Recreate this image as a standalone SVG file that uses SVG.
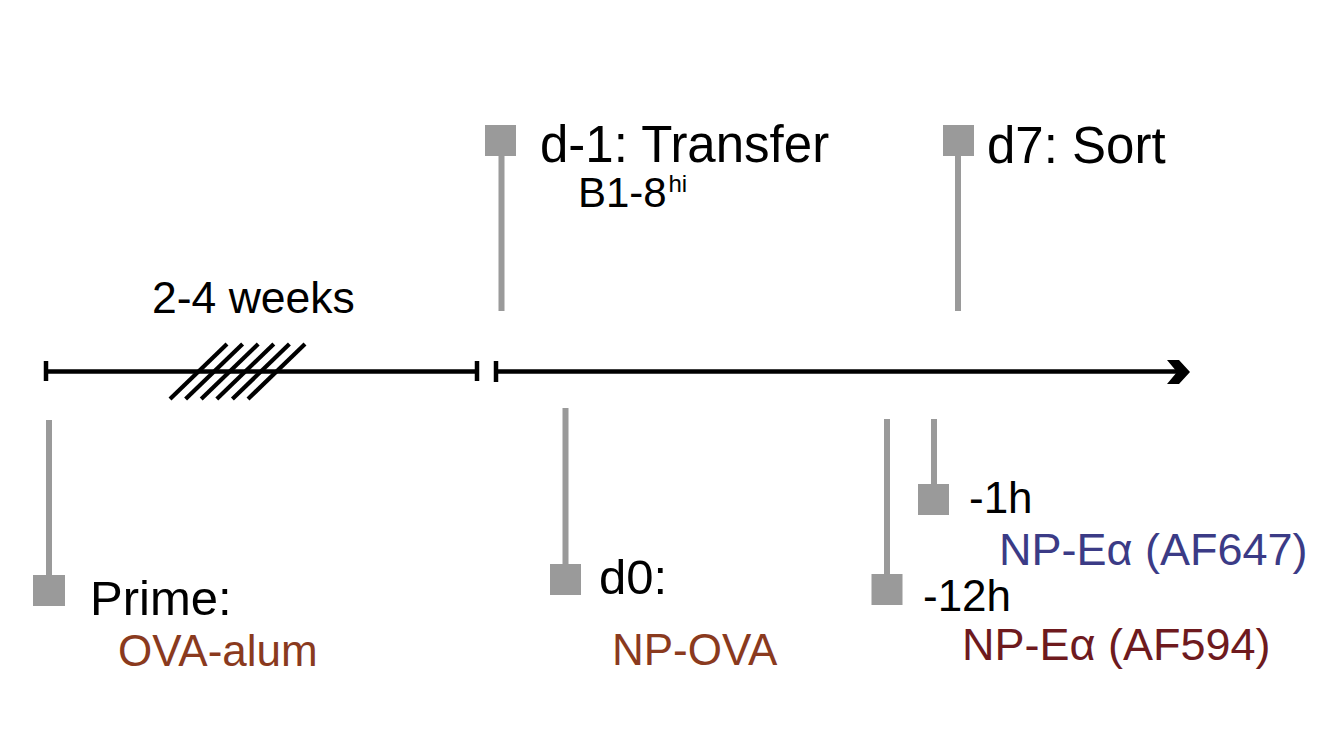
<svg xmlns="http://www.w3.org/2000/svg" width="1325" height="740" viewBox="0 0 1325 740">
<style>
text{font-family:"Liberation Sans",Arial,sans-serif;fill:#000}
.stem{stroke:#9a9a9a;stroke-width:6;fill:none}
.sq{fill:#9a9a9a}
.axis{stroke:#000;stroke-width:4.5;fill:none}
.hatch{stroke:#000;stroke-width:4.2;fill:none}
.brown{fill:#8a3a1e}
.red{fill:#6e1a1e}
.navy{fill:#3b3b86}
</style>
<rect width="1325" height="740" fill="#fff"/>
<g id="connectors">
<line class="axis" x1="46" y1="371.5" x2="477" y2="371.5"/>
<line class="axis" x1="46" y1="361" x2="46" y2="381"/>
<line class="axis" x1="477" y1="361" x2="477" y2="381"/>
<line class="axis" x1="496" y1="371.5" x2="1180" y2="371.5"/>
<line class="axis" x1="496" y1="361" x2="496" y2="382"/>
<polygon points="1167,360 1179,360 1190,372 1179,384 1167,384 1177,372" fill="#000"/>
<g id="hatching">
<line class="hatch" x1="170" y1="399" x2="227" y2="344"/>
<line class="hatch" x1="185.6" y1="399" x2="242.6" y2="344"/>
<line class="hatch" x1="201.2" y1="399" x2="258.2" y2="344"/>
<line class="hatch" x1="216.8" y1="399" x2="273.8" y2="344"/>
<line class="hatch" x1="232.4" y1="399" x2="289.4" y2="344"/>
<line class="hatch" x1="248" y1="399" x2="305" y2="344"/>
</g>
</g>
<text x="152" y="313" font-size="44.5">2-4 weeks</text>
<g id="transfer">
<line class="stem" x1="501.5" y1="155" x2="501.5" y2="311"/>
<rect class="sq" x="485" y="125" width="31" height="31"/>
<text x="540" y="162" font-size="51">d-1: Transfer</text>
<text x="578" y="207" font-size="42">B1-8</text>
<text x="668.5" y="192" font-size="24">hi</text>
</g>
<g id="sort">
<line class="stem" x1="958" y1="155" x2="958" y2="311"/>
<rect class="sq" x="943" y="125" width="31" height="31"/>
<text x="987" y="163" font-size="51">d7: Sort</text>
</g>
<g id="prime">
<line class="stem" x1="49" y1="420" x2="49" y2="576"/>
<rect class="sq" x="33" y="575" width="32" height="31"/>
<text x="90" y="615" font-size="49">Prime:</text>
<text class="brown" x="118" y="666" font-size="44">OVA-alum</text>
</g>
<g id="d0">
<line class="stem" x1="565.5" y1="408" x2="565.5" y2="565"/>
<rect class="sq" x="550" y="564" width="31" height="31"/>
<text x="599" y="594" font-size="49">d0:</text>
<text class="brown" x="612" y="665" font-size="44">NP-OVA</text>
</g>
<g id="minus12h">
<line class="stem" x1="887" y1="419" x2="887" y2="576"/>
<rect class="sq" x="871.5" y="574" width="31" height="31"/>
<text x="923" y="611" font-size="44">-12h</text>
<text class="red" x="962" y="660" font-size="45">NP-Eα (AF594)</text>
</g>
<g id="minus1h">
<line class="stem" x1="934" y1="419" x2="934" y2="485"/>
<rect class="sq" x="918" y="484" width="31" height="31"/>
<text x="969" y="513" font-size="44">-1h</text>
<text class="navy" x="999" y="565" font-size="45">NP-Eα (AF647)</text>
</g>
</svg>
